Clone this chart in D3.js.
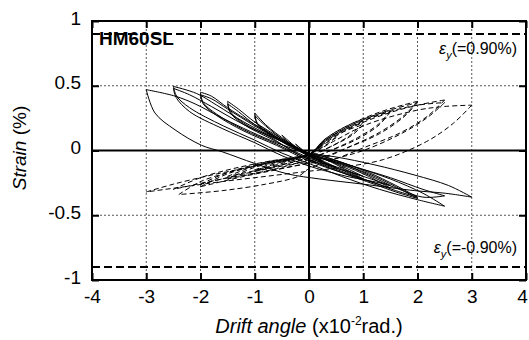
<!DOCTYPE html>
<html>
<head>
<meta charset="utf-8">
<script src="https://cdn.jsdelivr.net/npm/d3@7"></script>
<style>
  body { margin: 0; background: #fff; }
  svg { font-family: "Liberation Sans", Arial, sans-serif; }
</style>
</head>
<body>
<div class="graphContainer"></div>
<script>
var width = 529;
var height = 340;

// tick labels and reference lines
var xTicks = [-4, -3, -2, -1, 0, 1, 2, 3, 4];
var yTicks = [-1, -0.5, 0, 0.5, 1];
var gridX = [-3, -2, -1, 1, 2, 3];
var gridY = [-0.5, 0.5];
var yieldStrain = [0.9, -0.9];

// gauge 1 (solid): each cycle starts at the + peak, goes to the - peak and back
var solidCycles = [
  [[0.25,-0.08],[0,-0.04],[-0.25,0.05],[0,-0.03],[0.25,-0.08]],
  [[0.5,-0.13],[0.25,-0.08],[0,-0.04],[-0.25,0.03],[-0.5,0.12],[-0.4,0.07],[-0.2,0.02],[0,-0.03],[0.25,-0.09],[0.5,-0.13]],
  [[1,-0.2],[0.6,-0.12],[0.2,-0.05],[0,-0.03],[-0.4,0.06],[-0.8,0.19],[-1,0.27],[-0.95,0.2],[-0.7,0.12],[-0.3,0.02],[0.2,-0.08],[0.6,-0.14],[1,-0.2]],
  [[1,-0.22],[0.6,-0.13],[0.2,-0.05],[0,-0.03],[-0.4,0.07],[-0.8,0.2],[-1,0.29],[-0.95,0.21],[-0.7,0.13],[-0.3,0.03],[0.2,-0.09],[0.6,-0.15],[1,-0.22]],
  [[1.5,-0.27],[1.1,-0.19],[0.6,-0.1],[0,-0.03],[-0.5,0.08],[-1,0.2],[-1.3,0.3],[-1.5,0.36],[-1.45,0.29],[-1.2,0.2],[-0.7,0.09],[-0.2,-0.02],[0.4,-0.12],[1,-0.2],[1.5,-0.27]],
  [[1.5,-0.29],[1.1,-0.2],[0.6,-0.11],[0,-0.03],[-0.5,0.09],[-1,0.22],[-1.3,0.32],[-1.5,0.38],[-1.45,0.3],[-1.2,0.21],[-0.7,0.1],[-0.2,-0.03],[0.4,-0.13],[1,-0.22],[1.5,-0.29]],
  [[2,-0.36],[1.6,-0.27],[1.1,-0.17],[0.5,-0.08],[0,-0.03],[-0.5,0.07],[-1,0.19],[-1.5,0.32],[-1.8,0.4],[-2,0.43],[-1.95,0.36],[-1.7,0.27],[-1.2,0.15],[-0.6,0.04],[0,-0.08],[0.6,-0.17],[1.2,-0.25],[1.6,-0.31],[2,-0.36]],
  [[2,-0.37],[1.6,-0.28],[1.1,-0.18],[0.5,-0.09],[0,-0.03],[-0.5,0.08],[-1,0.2],[-1.5,0.33],[-1.8,0.42],[-2,0.45],[-1.95,0.37],[-1.7,0.28],[-1.2,0.16],[-0.6,0.05],[0,-0.07],[0.6,-0.17],[1.2,-0.26],[1.6,-0.32],[2,-0.37]],
  [[2.5,-0.43],[2.1,-0.33],[1.5,-0.22],[0.8,-0.12],[0.3,-0.05],[0,-0.02],[-0.5,0.07],[-1.2,0.22],[-1.7,0.35],[-2.07,0.44],[-2.5,0.495],[-2.44,0.42],[-2.2,0.33],[-1.58,0.19],[-1,0.08],[-0.5,-0.02],[0,-0.1],[0.6,-0.2],[1.3,-0.3],[2,-0.38],[2.5,-0.43]],
  [[2.5,-0.35],[2.1,-0.3],[1.5,-0.21],[0.8,-0.12],[0.3,-0.05],[0,-0.02],[-0.5,0.07],[-1.2,0.2],[-1.8,0.34],[-2.2,0.43],[-2.5,0.48],[-2.45,0.41],[-2.2,0.3],[-1.6,0.17],[-1,0.06],[-0.5,-0.04],[0,-0.12],[0.7,-0.2],[1.4,-0.26],[2.1,-0.36],[2.5,-0.35]],
  [[3,-0.36],[2.57,-0.27],[1.95,-0.19],[1.2,-0.11],[0.5,-0.05],[0,-0.02],[-0.6,0.06],[-1.55,0.24],[-2.1,0.36],[-2.47,0.42],[-3,0.47],[-2.84,0.29],[-2.47,0.16],[-1.98,0.04],[-1.6,-0.01],[-1,-0.1],[-0.4,-0.18],[0.2,-0.22],[1,-0.26],[1.95,-0.31],[2.51,-0.33],[3,-0.36]]
];

// gauge 2 (dashed)
var dashedCycles = [
  [[0.25,0.04],[0,-0.03],[-0.25,-0.06],[0,-0.03],[0.25,0.04]],
  [[0.5,0.1],[0.3,0.04],[0,-0.03],[-0.25,-0.06],[-0.5,-0.09],[-0.3,-0.06],[0,-0.03],[0.2,0.03],[0.5,0.1]],
  [[1,0.2],[0.8,0.12],[0.4,0.03],[0,-0.04],[-0.5,-0.1],[-1,-0.15],[-0.6,-0.09],[0,-0.03],[0.3,0.07],[0.6,0.14],[1,0.2]],
  [[1,0.22],[0.8,0.13],[0.4,0.03],[0,-0.05],[-0.5,-0.11],[-1,-0.16],[-0.6,-0.1],[0,-0.03],[0.3,0.08],[0.6,0.15],[1,0.22]],
  [[1.5,0.3],[1.3,0.2],[0.9,0.09],[0.4,0],[0,-0.06],[-0.6,-0.12],[-1.5,-0.2],[-1,-0.12],[-0.5,-0.07],[0,-0.03],[0.3,0.08],[0.8,0.2],[1.5,0.3]],
  [[1.5,0.31],[1.3,0.21],[0.9,0.1],[0.4,0],[0,-0.07],[-0.6,-0.14],[-1.5,-0.22],[-1,-0.13],[-0.5,-0.08],[0,-0.03],[0.3,0.09],[0.8,0.21],[1.5,0.31]],
  [[2,0.37],[1.75,0.26],[1.3,0.13],[0.7,0.02],[0.2,-0.06],[-0.5,-0.12],[-1.2,-0.18],[-2,-0.26],[-1.5,-0.17],[-0.8,-0.09],[0,-0.03],[0.3,0.08],[0.8,0.2],[1.4,0.3],[2,0.37]],
  [[2,0.38],[1.75,0.27],[1.3,0.14],[0.7,0.02],[0.2,-0.07],[-0.5,-0.14],[-1.2,-0.2],[-2,-0.28],[-1.5,-0.18],[-0.8,-0.1],[0,-0.03],[0.3,0.09],[0.8,0.21],[1.4,0.31],[2,0.38]],
  [[2.5,0.39],[2.2,0.27],[1.7,0.14],[1,0.02],[0.4,-0.08],[0,-0.14],[-0.2,-0.2],[-0.8,-0.26],[-1.6,-0.31],[-2.4,-0.34],[-2,-0.24],[-1.4,-0.16],[-0.7,-0.09],[0,-0.03],[0.3,0.06],[0.8,0.18],[1.4,0.28],[2,0.35],[2.5,0.39]],
  [[2.5,0.37],[2.2,0.26],[1.7,0.13],[1,0],[0.4,-0.07],[0,-0.1],[-0.8,-0.16],[-1.6,-0.22],[-2.5,-0.3],[-2,-0.21],[-1.4,-0.14],[-0.7,-0.08],[0,-0.03],[0.3,0.07],[0.8,0.19],[1.4,0.29],[2,0.35],[2.5,0.37]],
  [[3,0.35],[2.66,0.21],[2.17,0.07],[1.37,-0.07],[0.6,-0.13],[0,-0.16],[-0.8,-0.2],[-1.6,-0.24],[-2.3,-0.28],[-3,-0.32],[-2.5,-0.26],[-1.8,-0.19],[-1,-0.12],[-0.4,-0.06],[0,-0.03],[0.45,0.07],[1.06,0.2],[1.98,0.31],[2.5,0.34],[3,0.35]]
];

var svg = d3
  .select(".graphContainer")
  .append("svg")
  .attr("width", width)
  .attr("height", height);

var xScale = d3.scaleLinear().domain([-4, 4]).range([92, 526]);
var yScale = d3.scaleLinear().domain([-1, 1]).range([280, 21]);

// dotted grid
svg.selectAll(".gx")
  .data(gridX)
  .enter()
  .append("line")
  .attr("x1", (d) => xScale(d))
  .attr("x2", (d) => xScale(d))
  .attr("y1", yScale(1))
  .attr("y2", yScale(-1))
  .attr("stroke", "#555")
  .attr("stroke-width", 1)
  .attr("stroke-dasharray", "2,2");
svg.selectAll(".gy")
  .data(gridY)
  .enter()
  .append("line")
  .attr("x1", xScale(-4))
  .attr("x2", xScale(4))
  .attr("y1", (d) => yScale(d))
  .attr("y2", (d) => yScale(d))
  .attr("stroke", "#555")
  .attr("stroke-width", 1)
  .attr("stroke-dasharray", "2,2");

// split each cycle at its negative peak so the tips stay sharp
function branches(cycle) {
  var iMin = d3.minIndex(cycle, (p) => p[0]);
  return [cycle.slice(0, iMin + 1), cycle.slice(iMin)];
}

var line = d3
  .line()
  .x((p) => xScale(p[0]))
  .y((p) => yScale(p[1]))
  .curve(d3.curveCatmullRom.alpha(0.5));

svg.selectAll(".dashed")
  .data(dashedCycles.flatMap(branches))
  .enter()
  .append("path")
  .attr("d", line)
  .attr("fill", "none")
  .attr("stroke", "#000")
  .attr("stroke-width", 1)
  .attr("stroke-dasharray", "5,3");

svg.selectAll(".solid")
  .data(solidCycles.flatMap(branches))
  .enter()
  .append("path")
  .attr("d", line)
  .attr("fill", "none")
  .attr("stroke", "#000")
  .attr("stroke-width", 1);

// zero lines
svg.append("line")
  .attr("x1", xScale(0)).attr("x2", xScale(0))
  .attr("y1", yScale(1)).attr("y2", yScale(-1))
  .attr("stroke", "#000").attr("stroke-width", 2);
svg.append("line")
  .attr("x1", xScale(-4)).attr("x2", xScale(4))
  .attr("y1", yScale(0)).attr("y2", yScale(0))
  .attr("stroke", "#000").attr("stroke-width", 2);

// yield strain lines
svg.selectAll(".yield")
  .data(yieldStrain)
  .enter()
  .append("line")
  .attr("x1", xScale(-4))
  .attr("x2", xScale(4))
  .attr("y1", (d) => yScale(d))
  .attr("y2", (d) => yScale(d))
  .attr("stroke", "#000")
  .attr("stroke-width", 2)
  .attr("stroke-dasharray", "8,4");

// axes with inward ticks
var fmt = (d) => String(d);
var xAxis = svg.append("g")
  .attr("transform", "translate(0," + yScale(-1) + ")")
  .call(d3.axisBottom(xScale).tickValues(xTicks).tickSizeInner(-7).tickSizeOuter(0).tickPadding(10).tickFormat(fmt));
var yAxis = svg.append("g")
  .attr("transform", "translate(" + xScale(-4) + ",0)")
  .call(d3.axisLeft(yScale).tickValues(yTicks).tickSizeInner(-7).tickSizeOuter(0).tickPadding(11).tickFormat(fmt));
svg.append("g")
  .attr("transform", "translate(0," + yScale(1) + ")")
  .call(d3.axisTop(xScale).tickValues(xTicks).tickSizeInner(-7).tickSizeOuter(0).tickFormat(""));
svg.append("g")
  .attr("transform", "translate(" + xScale(4) + ",0)")
  .call(d3.axisRight(yScale).tickValues(yTicks).tickSizeInner(-7).tickSizeOuter(0).tickFormat(""));

svg.selectAll(".domain").remove();
svg.selectAll(".tick line").attr("stroke", "#000").attr("stroke-width", 2);
svg.selectAll(".tick text")
  .attr("fill", "#000")
  .style("font-size", "19px")
  .style("font-family", "'Liberation Sans', Arial, sans-serif");
yAxis.selectAll(".tick text").attr("y", -3);
// last x label sits inside the window edge
xAxis.selectAll(".tick text").filter((d) => d === 4).attr("x", -4);

// frame
svg.append("rect")
  .attr("x", xScale(-4))
  .attr("y", yScale(1))
  .attr("width", xScale(4) - xScale(-4))
  .attr("height", yScale(-1) - yScale(1))
  .attr("fill", "none")
  .attr("stroke", "#000")
  .attr("stroke-width", 2);

// labels
svg.append("text")
  .attr("x", 99)
  .attr("y", 45)
  .text("HM60SL")
  .style("font-size", "19px")
  .style("font-weight", "bold");

function yieldLabel(yPos, txt) {
  var t = svg.append("text")
    .attr("x", 517)
    .attr("y", yPos)
    .attr("text-anchor", "end")
    .style("font-size", "16px");
  t.append("tspan").text("ε").style("font-style", "italic");
  t.append("tspan").attr("dy", 5).style("font-size", "11px").style("font-style", "italic").text("y");
  t.append("tspan").attr("dy", -5).text(txt);
}
yieldLabel(54, "(=0.90%)");
yieldLabel(253, "(=-0.90%)");

var xt = svg.append("text")
  .attr("x", 309)
  .attr("y", 333)
  .attr("text-anchor", "middle")
  .style("font-size", "20px");
xt.append("tspan").text("Drift angle").style("font-style", "italic");
xt.append("tspan").text(" (x10");
xt.append("tspan").attr("dy", -8).style("font-size", "12px").text("-2");
xt.append("tspan").attr("dy", 8).text("rad.)");

var yt = svg.append("text")
  .attr("transform", "translate(26,148) rotate(-90)")
  .attr("text-anchor", "middle")
  .style("font-size", "19px");
yt.append("tspan").text("Strain").style("font-style", "italic");
yt.append("tspan").text(" (%)");
</script>
</body>
</html>
